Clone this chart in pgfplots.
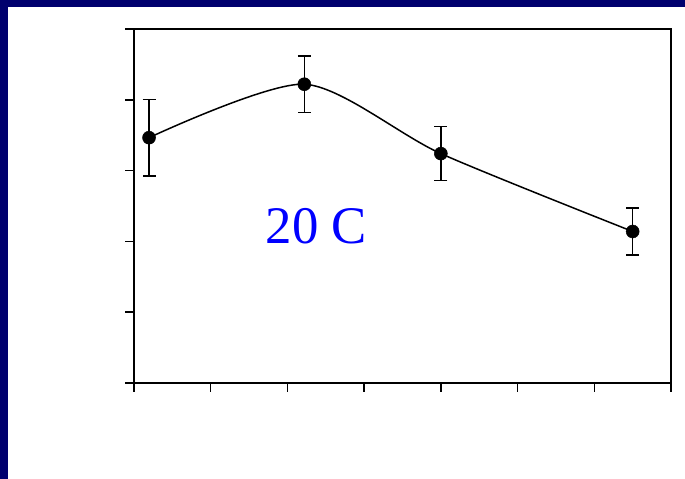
\documentclass[border=0pt]{standalone}
\usepackage{fontspec}
\setmainfont{Liberation Serif}
\usepackage{pgfplots}
\pgfplotsset{compat=1.18}
\definecolor{navyframe}{RGB}{0,0,110}
\begin{document}
\begin{tikzpicture}[x=1bp,y=1bp]
\path[use as bounding box] (0,0) rectangle (685,479);
\fill[white] (0,0) rectangle (685,479);
\fill[navyframe] (0,472) rectangle (685,479);
\fill[navyframe] (0,0) rectangle (8,479);
\begin{axis}[
  at={(134bp,96bp)}, anchor=south west,
  scale only axis, width=537bp, height=354bp,
  xmin=0, xmax=7, ymin=0, ymax=5,
  xtick={0,1,...,7}, ytick={0,1,...,5},
  xticklabels={}, yticklabels={},
  xtick pos=bottom, ytick pos=left,
  tick align=outside,
  major tick length=9bp,
  axis line style={line width=1.5bp},
  every tick/.style={line width=1.5bp, black},
  clip=false,
]
\addplot[black, line width=1.5bp, smooth, tension=0.45,
  mark=*, mark size=6.5bp, mark options={fill=black, line width=0.5bp},
  error bars/.cd, y dir=both, y explicit,
  error bar style={line width=1.6bp},
  error mark options={rotate=90, mark size=6.5bp, line width=1.6bp}]
  coordinates {
  (0.196,3.465) +- (0,0.54)
  (2.22,4.22) +- (0,0.40)
  (4.0,3.24) +- (0,0.38)
  (6.5,2.14) +- (0,0.33)
  };
\node[text=blue, font=\fontsize{53}{60}\selectfont, inner sep=0pt] at (axis cs:2.38,2.22) {20 C};
\end{axis}
\end{tikzpicture}
\end{document}
